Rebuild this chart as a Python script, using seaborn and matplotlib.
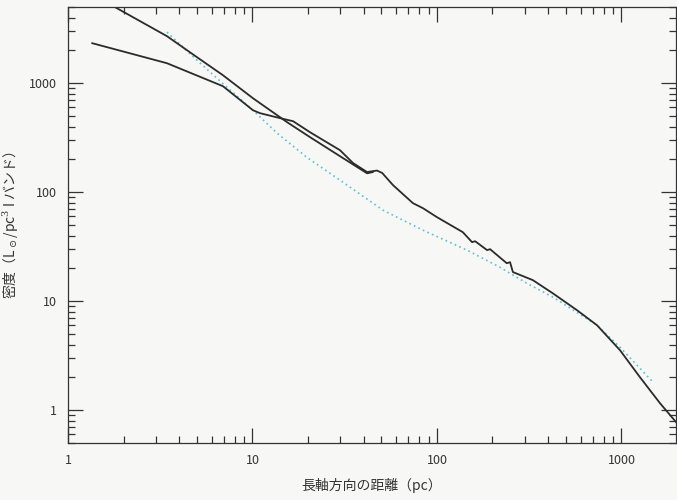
import numpy as np
import pandas as pd
import matplotlib
matplotlib.use('Agg')
import matplotlib.pyplot as plt
from matplotlib.ticker import LogLocator, NullFormatter, FixedLocator, FixedFormatter
import seaborn as sns

# 스타일
sns.set_style('ticks')
plt.rcParams['font.family'] = ['Noto Sans CJK JP', 'DejaVu Sans']
plt.rcParams['mathtext.fontset'] = 'dejavuserif'

# 1. 데이터
# 모델 A: 위쪽에서 시작하는 실선
dist_a = [1.8, 3.44, 5.0, 6.92, 10.06, 15.4, 20.5, 29.8, 41.8, 45.0]
dens_a = [4980, 2700, 1733, 1183, 728, 439, 320, 214, 149, 153]

# 모델 B: 아래쪽에서 시작해서 끝까지 이어지는 실선
dist_b = [1.35, 3.44, 6.92, 10.06, 10.98, 14.1, 16.6, 20.5, 29.8, 35.1, 41.8, 47.3,
          50.5, 57.8, 74.1, 84.0, 100, 138, 155, 161, 187, 194, 239, 249, 258,
          331, 425, 574, 737, 982, 1259, 1617, 1999]
dens_b = [2330, 1525, 938, 565, 531, 478, 448, 355, 243, 185, 153, 158,
          150, 116, 79.3, 71.3, 59.0, 43.0, 34.8, 35.5, 29.4, 30.0, 22.3, 22.8, 18.5,
          15.6, 11.8, 8.27, 6.02, 3.55, 2.01, 1.16, 0.76]

# 관측값: 점선
dist_obs = [3.44, 5.0, 7.27, 10.06, 13.6, 19.7, 29.8, 51.0, 84.0, 145.5, 219,
            307, 425, 737, 982, 1482]
dens_obs = [2940, 1625, 919, 565, 348, 209, 129, 68.4, 44.8, 29.4, 20.5,
            14.6, 10.9, 6.02, 3.78, 1.81]

df_a = pd.DataFrame({'dist': dist_a, 'dens': dens_a})
df_b = pd.DataFrame({'dist': dist_b, 'dens': dens_b})
df_obs = pd.DataFrame({'dist': dist_obs, 'dens': dens_obs})

# 2. 시각화
fig = plt.figure(figsize=(6.77, 5.0), dpi=100, facecolor='#f7f7f5')
ax = fig.add_axes([0.1004, 0.114, 0.8981, 0.872])
ax.set_facecolor('#f7f7f5')

sns.lineplot(data=df_obs, x='dist', y='dens', sort=False, ax=ax,
             color='#5bbfd6', lw=1.2, linestyle=(0, (1, 2)))
sns.lineplot(data=df_a, x='dist', y='dens', sort=False, ax=ax, color='#2b2b2b', lw=1.3)
sns.lineplot(data=df_b, x='dist', y='dens', sort=False, ax=ax, color='#2b2b2b', lw=1.3)

ax.set_xscale('log')
ax.set_yscale('log')
ax.set_xlim(1, 1975)
ax.set_ylim(0.5, 5000)

ticks = [1, 10, 100, 1000]
ax.xaxis.set_major_locator(FixedLocator(ticks))
ax.xaxis.set_major_formatter(FixedFormatter([str(t) for t in ticks]))
ax.yaxis.set_major_locator(FixedLocator(ticks))
ax.yaxis.set_major_formatter(FixedFormatter([str(t) for t in ticks]))
for axis in (ax.xaxis, ax.yaxis):
    axis.set_minor_locator(LogLocator(base=10, subs=np.arange(2, 10)))
    axis.set_minor_formatter(NullFormatter())

ax.tick_params(which='both', direction='in', top=True, right=True, color='#333333',
               labelsize=9, labelcolor='#333333', width=0.9)
ax.tick_params(which='major', length=11, pad=8)
ax.tick_params(which='minor', length=5)
for s in ax.spines.values():
    s.set_color('#333333')
    s.set_linewidth(0.9)

ax.set_xlabel('長軸方向の距離（pc）', fontsize=10, color='#333333', labelpad=8)
ax.set_ylabel(r'密度（L$_\odot$/pc$^3$ I バンド）', fontsize=10, color='#333333', labelpad=6)

fig.savefig('out.png', dpi=100, facecolor=fig.get_facecolor())
